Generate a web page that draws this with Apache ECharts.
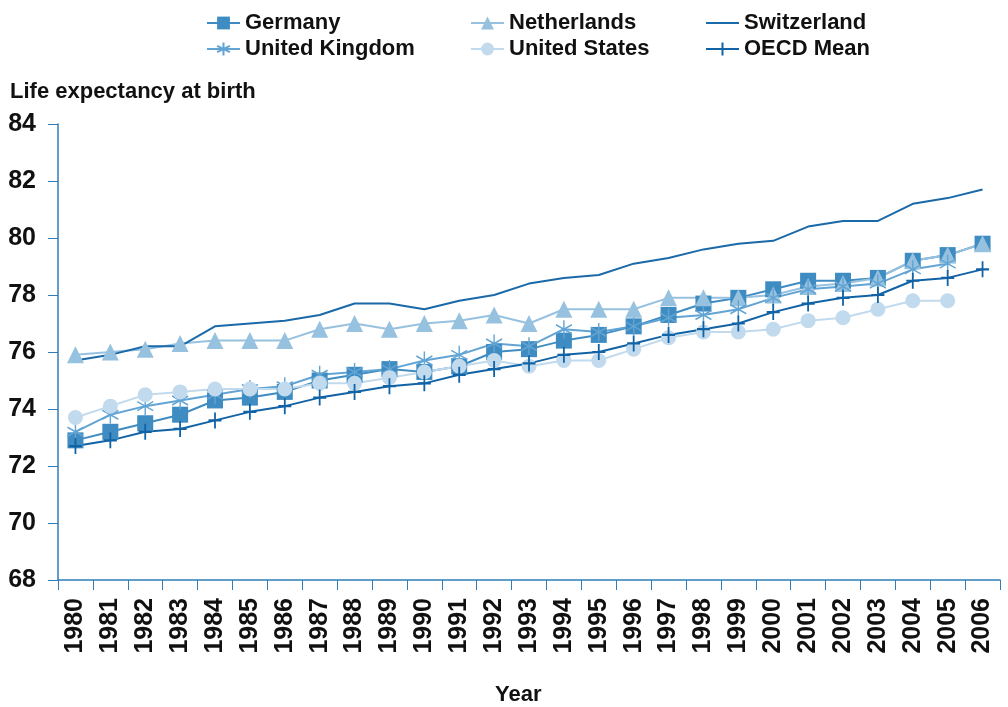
<!DOCTYPE html>
<html>
<head>
<meta charset="utf-8">
<script src="https://cdn.jsdelivr.net/npm/echarts@6/dist/echarts.min.js"></script>
<style>html,body{margin:0;padding:0;background:#fff}#c{width:1008px;height:707px}</style>
</head>
<body>
<div id="c"></div>
<script>
const years = ['1980','1981','1982','1983','1984','1985','1986','1987','1988','1989','1990','1991','1992','1993','1994','1995','1996','1997','1998','1999','2000','2001','2002','2003','2004','2005','2006'];
const germany = [72.9,73.2,73.5,73.8,74.3,74.4,74.6,75.0,75.2,75.4,75.3,75.5,76.0,76.1,76.4,76.6,76.9,77.3,77.7,77.9,78.2,78.5,78.5,78.6,79.2,79.4,79.8];
const netherlands = [75.9,76.0,76.1,76.3,76.4,76.4,76.4,76.8,77.0,76.8,77.0,77.1,77.3,77.0,77.5,77.5,77.5,77.9,77.9,77.9,78.0,78.3,78.4,78.6,79.2,79.4,79.8];
const switzerland = [75.7,75.9,76.2,76.2,76.9,77.0,77.1,77.3,77.7,77.7,77.5,77.8,78.0,78.4,78.6,78.7,79.1,79.3,79.6,79.8,79.9,80.4,80.6,80.6,81.2,81.4,81.7];
const unitedKingdom = [73.2,73.8,74.1,74.3,74.5,74.7,74.8,75.2,75.3,75.4,75.7,75.9,76.3,76.2,76.8,76.7,76.9,77.2,77.3,77.5,77.9,78.2,78.3,78.4,78.9,79.1,null];
const unitedStates = [73.7,74.1,74.5,74.6,74.7,74.7,74.7,74.9,74.9,75.1,75.3,75.5,75.7,75.5,75.7,75.7,76.1,76.5,76.7,76.7,76.8,77.1,77.2,77.5,77.8,77.8,null];
const oecdMean = [72.7,72.9,73.2,73.3,73.6,73.9,74.1,74.4,74.6,74.8,74.9,75.2,75.4,75.6,75.9,76.0,76.3,76.6,76.8,77.0,77.4,77.7,77.9,78.0,78.5,78.6,78.9];
const yTicks = [68,70,72,74,76,78,80,82,84];

const FONT = 'Liberation Sans';
const chart = echarts.init(document.getElementById('c'), null, {renderer:'canvas'});

function mk(name, data, color, symbol, size, extra) {
  return Object.assign({
    name, type:'line', data, symbol, symbolSize:size,
    showAllSymbol:true, connectNulls:false,
    lineStyle:{color, width:2},
    itemStyle:{color},
    emphasis:{disabled:true},
    animation:false
  }, extra||{});
}
const asterisk = 'path://M0,-10L0,10M-8.66,-5L8.66,5M-8.66,5L8.66,-5';
const plus = 'path://M0,-8L0,8M-7,0L7,0';
const lineIcon = 'path://M0,0L33,0L33,2L0,2Z';

const legendText = {fontFamily:FONT, fontSize:22, fontWeight:'bold', color:'#111'};
function leg(names, left) {
  return {data:names, orient:'vertical', left, top:7, itemGap:4, itemWidth:33, itemHeight:16,
          textStyle:legendText, selectedMode:false};
}

chart.setOption({
  backgroundColor:'#fff',
  animation:false,
  title:[
    {text:'Life expectancy at birth', left:5, top:76, textStyle:{fontFamily:FONT, fontSize:22, fontWeight:'bold', color:'#111'}},
    {text:'Year', left:490, top:679, textStyle:{fontFamily:FONT, fontSize:22, fontWeight:'bold', color:'#111'}}
  ],
  legend:[
    leg(['Germany','United Kingdom'], 201),
    leg(['Netherlands','United States'], 465),
    leg([{name:'Switzerland', icon:lineIcon},'OECD Mean'], 700)
  ],
  grid:{left:58, right:8, top:124, bottom:127, containLabel:false},
  xAxis:{
    type:'category', data:years, boundaryGap:true,
    axisLine:{lineStyle:{color:'#2f7db9', width:1.5}},
    axisTick:{show:true, length:10, lineStyle:{color:'#2f7db9'}},
    axisLabel:{rotate:90, margin:18, fontFamily:FONT, fontSize:25, fontWeight:'bold', color:'#111', interval:0}
  },
  yAxis:{
    type:'value', min:yTicks[0], max:yTicks[yTicks.length-1], interval:2,
    axisLine:{show:true, lineStyle:{color:'#2f7db9', width:1.5}},
    axisTick:{show:true, length:10, lineStyle:{color:'#2f7db9'}},
    splitLine:{show:false},
    axisLabel:{margin:22, fontFamily:FONT, fontSize:25, fontWeight:'bold', color:'#111',
      formatter: v => yTicks.includes(v) ? String(v) : ''}
  },
  series:[
    mk('Germany', germany, '#3f8cc2', 'rect', 16),
    mk('Netherlands', netherlands, '#96c1df', 'triangle', 17),
    mk('Switzerland', switzerland, '#1a69a9', 'none', 0),
    mk('United Kingdom', unitedKingdom, '#62a4d4', asterisk, [16,18], {itemStyle:{color:'#62a4d4', borderColor:'#62a4d4', borderWidth:1.5}}),
    mk('United States', unitedStates, '#c2daed', 'circle', 15),
    mk('OECD Mean', oecdMean, '#1163a6', plus, [13,16], {itemStyle:{color:'#1163a6', borderColor:'#1163a6', borderWidth:2}})
  ]
});
</script>
</body>
</html>
